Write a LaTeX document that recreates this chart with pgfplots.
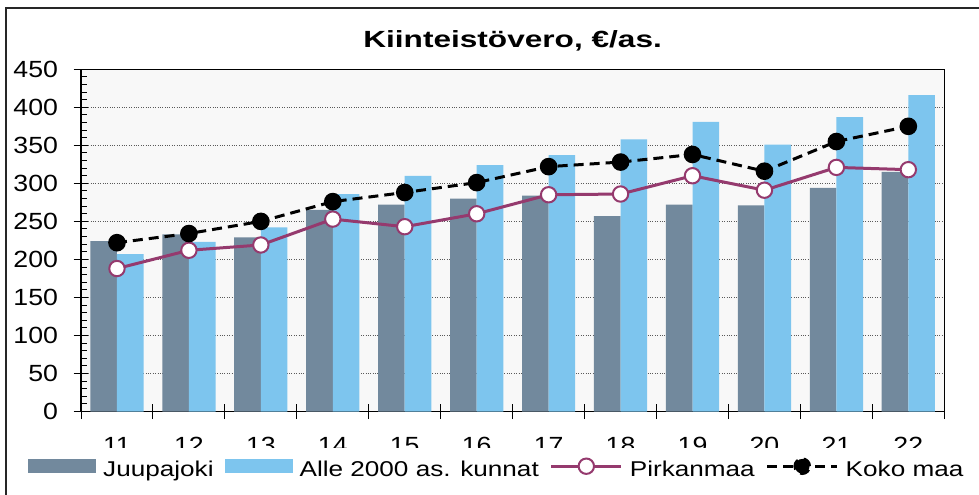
\documentclass[border=0pt]{standalone}
\usepackage{fontspec}
\setmainfont{Liberation Sans}
\newfontfamily\tickfont{Liberation Sans}[FakeStretch=1.14]
\newfontfamily\legfont{Liberation Sans}[FakeStretch=1.22]
\newfontfamily\titlefont{Liberation Sans}[FakeStretch=1.35]
\usepackage{pgfplots}
\pgfplotsset{compat=1.18}

\definecolor{cJuu}{RGB}{114,137,157}
\definecolor{cAlle}{RGB}{125,197,238}
\definecolor{cPirk}{RGB}{149,58,110}
\definecolor{cBg}{RGB}{248,248,248}
\definecolor{cGrid}{RGB}{90,90,90}

\begin{document}
\begin{tikzpicture}
\useasboundingbox (0bp,0bp) rectangle (979bp,495bp);
% outer chart frame (cut off on right and bottom)
\draw[line width=1.5bp, black!85] (6bp,0bp) -- (6bp,487bp) -- (979bp,487bp);
\node[anchor=base, font=\titlefont\bfseries\fontsize{23.5}{28}\selectfont]
  at (512.6bp,447.7bp) {Kiinteistövero, €/as.};

\begin{axis}[
  at={(81bp,83.5bp)}, anchor=south west,
  scale only axis, width=863.3bp, height=342.2bp,
  xmin=-0.5, xmax=11.5, ymin=0, ymax=450,
  axis background/.style={fill=cBg},
  axis line style={line width=1.5bp, black},
  tick align=center, tick pos=left,
  major tick length=15bp, minor tick length=6bp,
  tick style={line width=1bp, black},
  minor y tick style={xshift=3bp},
  ytick={0,50,...,450}, minor y tick num=4,
  xtick={-0.5,0.5,...,11.5}, xticklabel=\empty,
  extra x ticks={0,...,11},
  extra x tick labels={11,12,13,14,15,16,17,18,19,20,21,22},
  extra x tick style={major tick length=0pt, grid=none},
  ymajorgrids=true,
  major y grid style={dotted, line width=1bp, cGrid},
  /pgf/number format/assume math mode=true,
  tick label style={font=\tickfont\fontsize{23.5}{28}\selectfont},
  yticklabel style={xshift=-12bp},
  xticklabel style={yshift=-22bp},
  legend columns=4,
  legend style={
    at={(axis description cs:-0.0614,-0.1067)}, anchor=north west,
    fill=white, draw=none, inner xsep=0bp, inner ysep=3bp,
    font=\legfont\fontsize{21.5}{26}\selectfont,
    nodes={inner xsep=0bp, inner ysep=0bp, text height=25bp, text depth=5bp},
    /tikz/every odd column/.append style={column sep=7bp},
    /tikz/every even column/.append style={column sep=11bp},
  },
]
\addplot[ybar, bar width=0.37, bar shift=-0.185, fill=cJuu, draw=none,
  legend image code/.code={\fill[cJuu] (0bp,-7bp) rectangle (68bp,7bp);}]
  coordinates {(0,224) (1,233) (2,229) (3,265) (4,272) (5,280)
               (6,284) (7,257) (8,272) (9,271) (10,294) (11,315)};
\addlegendentry{Juupajoki}
\addplot[ybar, bar width=0.37, bar shift=0.185, fill=cAlle, draw=none,
  legend image code/.code={\fill[cAlle] (0bp,-7bp) rectangle (68bp,7bp);}]
  coordinates {(0,207) (1,223) (2,242) (3,286) (4,310) (5,324)
               (6,337) (7,358) (8,381) (9,351) (10,387) (11,416)};
\addlegendentry{Alle 2000 as. kunnat}
\addplot[cPirk, line width=3bp, mark=*, mark size=7.7bp,
  mark options={fill=white, draw=cPirk, line width=2bp},
  legend image code/.code={
    \draw[cPirk, line width=3bp] (0bp,0bp) -- (70bp,0bp);
    \draw[cPirk, line width=2bp, fill=white] (35bp,0bp) circle (7.7bp);}]
  coordinates {(0,188) (1,212) (2,219) (3,253) (4,243) (5,260)
               (6,285) (7,286) (8,310) (9,291) (10,321) (11,318)};
\addlegendentry{Pirkanmaa}
\addplot[black, line width=3bp, dash pattern=on 10bp off 6bp, mark=*, mark size=7.3bp,
  mark options={solid, fill=black},
  legend image code/.code={
    \draw[black, line width=3bp, dash pattern=on 10bp off 6bp] (0bp,0bp) -- (70bp,0bp);
    \fill[black] (35bp,0bp) circle (7.3bp);}]
  coordinates {(0,222) (1,234) (2,250) (3,276) (4,288) (5,301)
               (6,322) (7,328) (8,338) (9,316) (10,355) (11,375)};
\addlegendentry{Koko maa}
\end{axis}
\end{tikzpicture}
\end{document}
